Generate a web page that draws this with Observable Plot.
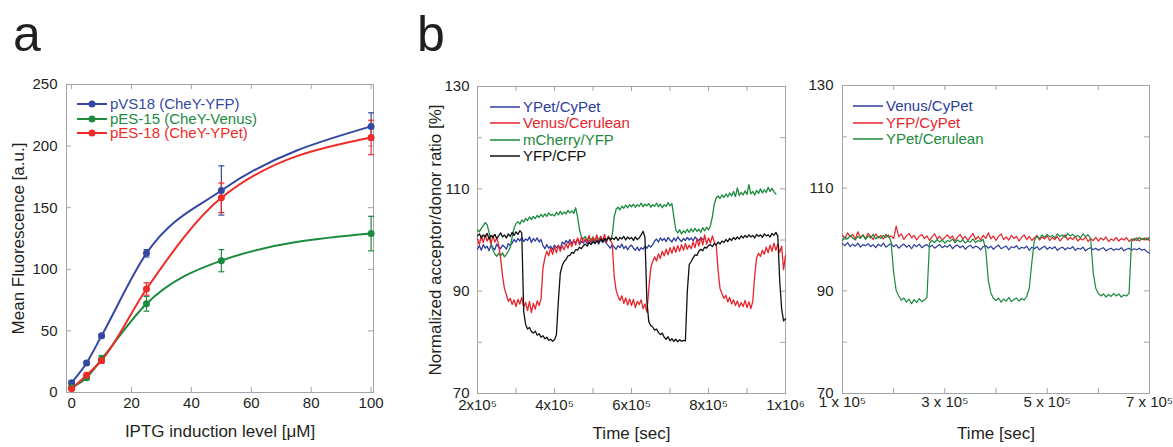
<!DOCTYPE html>
<html><head><meta charset="utf-8">
<script src="https://cdn.jsdelivr.net/npm/d3@7"></script>
<script src="https://cdn.jsdelivr.net/npm/@observablehq/plot@0.6"></script>
<style>
body{margin:0;background:#fff;}
#fig{position:relative;width:1173px;height:447px;overflow:hidden;font-family:"Liberation Sans",Arial,Helvetica,sans-serif;color:#231f20;background:#fff;}
.panel{position:absolute;top:0;}
.panel svg{overflow:visible;background:transparent;max-width:none;}
.big{position:absolute;font-size:50px;line-height:1;top:9px;}
.legend{position:absolute;font-size:15px;}
.legend .row{display:flex;align-items:center;white-space:nowrap;}
.legend svg{display:block;flex:none;}
</style></head>
<body><div id="fig"></div>
<script>
// ---------------- Panel a data ----------------
const iptgLevels = [0, 5, 10, 25, 50, 100];
const namesA = ["pVS18 (CheY-YFP)", "pES-15 (CheY-Venus)", "pES-18 (CheY-YPet)"];
const colorsA = ["#3448a3", "#1c8a3f", "#ee2b27"];
const pVS18Mean = [8, 24, 46, 113, 164, 216];
const pVS18Err  = [1.5, 1.5, 1.5, 3, 20, 11];
const pES15Mean = [4, 12, 27, 72, 107, 129];
const pES15Err  = [1, 1.5, 3, 6, 9, 14];
const pES18Mean = [3, 14, 26, 84, 158, 207];
const pES18Err  = [1, 1.5, 2, 5, 12, 14];
const xTicksA = [0, 20, 40, 60, 80, 100];
const yTicksA = [0, 50, 100, 150, 200, 250];
const xTitleA = "IPTG induction level [\u03bcM]";
const yTitleA = "Mean Fluorescence [a.u.]";

// ---------------- Panel b (left) data: 5000 s sampling from 2x10^5 s ----------------
const bLeftStart = 200000, bLeftStep = 5000;
const namesBL = ["YPet/CyPet", "Venus/Cerulean", "mCherry/YFP", "YFP/CFP"];
const colorsBL = ["#2c3c9c", "#e8232b", "#1a8a3c", "#111111"];
const ypetCypet = [
 98.2, 98.9, 98.0, 99.1, 98.4, 98.8, 97.9, 99.0, 98.5, 98.1,
 99.2, 98.6, 98.3, 99.0, 98.7, 98.2, 99.3, 98.9, 99.4, 100.1,
 99.6, 100.3, 99.8, 100.5, 99.7, 100.2, 99.9, 100.6, 99.5, 100.3,
 99.8, 100.4, 99.6, 100.1, 98.9, 98.3, 99.1, 98.4, 98.8, 98.1,
 99.0, 98.5, 98.9, 98.3, 99.6, 99.2, 99.9, 99.4, 100.1, 99.3,
 99.8, 99.5, 100.2, 99.1, 99.7, 99.4, 100.0, 99.3, 99.9, 99.6,
 100.2, 99.4, 99.8, 99.2, 100.1, 99.5, 99.9, 99.3, 98.9, 98.4,
 99.1, 98.6, 98.2, 98.9, 98.5, 99.2, 98.3, 98.8, 98.1, 98.7,
 99.0, 98.4, 98.0, 98.6, 97.9, 98.5, 98.2, 98.8, 98.4, 99.0,
 98.6, 99.1, 99.8, 100.2, 99.6, 100.4, 99.9, 100.3, 99.7, 100.5,
 100.0, 99.6, 100.4, 99.8, 100.6, 100.1, 99.7, 100.3, 99.9, 100.5,
 100.0, 100.4, 99.8, 100.6, 100.2, 99.9, 100.5, 100.1, 100.3];
const venusCerulean = [
 100.2, 99.1, 100.8, 99.5, 101.0, 99.8, 100.6, 99.2, 100.9, 99.6,
 100.4, 99.0, 96.5, 93.0, 90.5, 89.3, 88.0, 88.6, 87.4, 88.3,
 87.0, 88.4, 87.5, 88.8, 86.9, 87.8, 86.2, 88.0, 85.8, 87.6,
 86.5, 88.1, 87.2, 88.5, 94.5, 96.5, 97.8, 96.9, 98.4, 97.2,
 98.6, 97.5, 99.0, 97.8, 98.9, 98.1, 99.3, 98.4, 99.6, 98.7,
 100.1, 99.0, 100.4, 99.3, 100.6, 99.5, 100.2, 99.7, 100.9, 99.4,
 100.5, 99.8, 101.0, 99.6, 100.7, 99.9, 101.1, 99.5, 100.8, 100.0,
 99.2, 93.0, 90.2, 89.0, 88.2, 89.1, 87.6, 88.7, 87.3, 88.5,
 87.2, 88.4, 86.8, 88.0, 87.4, 88.3, 86.6, 87.5, 85.9, 90.5,
 94.5, 95.8, 96.7, 95.9, 97.3, 96.4, 97.8, 96.9, 98.2, 97.1,
 98.5, 97.4, 98.7, 97.6, 98.9, 97.8, 99.1, 98.0, 99.3, 98.2,
 99.0, 98.3, 99.6, 98.5, 100.2, 98.8, 100.5, 99.0, 101.0, 99.2,
 100.4, 99.4, 100.8, 99.6, 99.0, 94.0, 90.5, 89.5, 88.6, 89.2,
 87.9, 88.8, 87.5, 88.3, 87.2, 88.1, 86.9, 87.8, 87.0, 88.2,
 86.8, 87.9, 86.6, 88.0, 93.0, 96.5, 97.4, 96.8, 98.0, 97.2,
 98.6, 97.5, 99.0, 97.8, 99.4, 98.0, 99.2, 97.6, 98.8, 94.2,
 97.0];
const mcherryYfp = [
 102.0, 101.6, 102.3, 102.8, 103.4, 103.0, 101.5, 99.5, 98.0, 97.3,
 96.8, 97.4, 96.9, 97.5, 96.7, 97.2, 97.8, 98.5, 100.5, 102.3,
 103.2, 103.6, 103.1, 103.9, 103.5, 104.2, 103.8, 104.5, 104.0, 104.6,
 104.2, 104.8, 104.4, 105.0, 104.5, 105.1, 104.6, 105.3, 104.8, 105.0,
 104.7, 105.4, 104.9, 105.6, 105.0, 105.5, 105.1, 105.8, 105.3, 105.7,
 105.2, 106.3, 104.5, 102.0, 100.6, 100.2, 100.7, 99.9, 100.5, 100.0,
 100.6, 99.8, 100.4, 100.0, 100.7, 99.9, 100.3, 100.1, 100.5, 100.0,
 101.0, 104.5, 106.0, 106.4, 105.9, 106.6, 106.2, 106.8, 106.3, 106.9,
 106.5, 107.0, 106.4, 106.9, 106.6, 107.2, 106.5, 107.0, 106.7, 107.1,
 106.4, 106.9, 106.6, 107.2, 106.5, 107.0, 106.3, 106.9, 106.6, 107.3,
 106.7, 107.1, 104.5, 102.0, 101.4, 102.0, 101.2, 101.8, 101.4, 102.1,
 101.5, 102.2, 101.6, 102.3, 101.7, 102.1, 101.5, 102.4, 101.8, 102.5,
 102.0, 102.8, 104.5, 107.0, 108.2, 108.6, 108.1, 108.8, 108.3, 109.0,
 108.4, 109.2, 108.6, 109.5, 108.5, 110.2, 108.7, 109.3, 108.8, 109.6,
 108.9, 110.8, 109.0, 109.5, 108.8, 109.7, 109.1, 110.0, 109.2, 109.8,
 109.3, 110.3, 109.5, 110.1, 109.4, 109.0];
const yfpCfp = [
 100.8, 101.2, 100.4, 101.0, 100.6, 101.3, 100.2, 100.9, 100.5, 101.1,
 100.3, 100.8, 101.4, 100.6, 101.0, 100.4, 101.2, 100.7, 101.5, 100.9,
 101.6, 101.1, 101.8, 101.4, 86.0, 83.5, 82.6, 82.9, 82.1, 81.8,
 82.2, 81.4, 81.7, 81.0, 81.3, 80.7, 81.0, 80.4, 80.6, 80.2,
 80.5, 81.5, 88.0, 93.5, 95.0, 95.8, 96.2, 96.9, 97.0, 97.6,
 97.4, 98.1, 98.0, 98.6, 98.3, 98.9, 99.2, 98.8, 99.5, 99.1,
 99.7, 99.3, 99.9, 99.5, 100.2, 99.7, 100.3, 99.9, 100.5, 100.0,
 100.4, 100.1, 100.6, 99.9, 100.5, 100.2, 100.7, 100.0, 100.6, 100.2,
 100.5, 99.9, 100.6, 100.1, 100.4, 101.0, 101.7, 100.5, 88.0, 84.0,
 83.3, 83.0, 82.4, 82.6, 81.9, 81.5, 81.8, 81.0, 80.6, 81.1,
 80.3, 80.7, 80.2, 80.6, 80.1, 80.5, 80.2, 80.4, 80.3, 90.0,
 95.2, 95.8, 96.5, 97.1, 97.0, 97.8, 98.2, 97.9, 98.6, 98.4,
 98.9, 99.1, 98.7, 99.3, 99.0, 99.6, 99.2, 99.8, 99.5, 100.1,
 99.7, 100.3, 99.9, 100.5, 100.1, 100.6, 100.2, 100.8, 100.4, 100.9,
 100.5, 101.0, 100.6, 100.9, 100.4, 101.1, 100.7, 101.0, 100.5, 101.2,
 100.8, 101.0, 100.6, 101.3, 100.9, 101.5, 100.8, 92.0, 86.5, 84.2,
 84.6];
const xTickValuesBL = [200000, 300000, 400000, 500000, 600000, 700000, 800000, 900000, 1000000];
const xLabelValuesBL = [200000, 400000, 600000, 800000, 1000000];
const xLabelTextBL = ["2x10\u2075", "4x10\u2075", "6x10\u2075", "8x10\u2075", "1x10\u2076"];

// ---------------- Panel b (right) data: 5000 s sampling from 1x10^5 s ----------------
const bRightStart = 100000, bRightStep = 5000;
const namesBR = ["Venus/CyPet", "YFP/CyPet", "YPet/Cerulean"];
const colorsBR = ["#2c3c9c", "#e8232b", "#1a8a3c"];
const venusCypet = [
 99.2, 98.8, 99.4, 98.6, 99.1, 98.7, 99.3, 98.5, 99.0, 98.8,
 99.2, 98.6, 99.0, 98.4, 99.1, 98.7, 99.3, 98.5, 98.9, 99.2,
 98.6, 99.0, 98.3, 98.8, 99.1, 98.5, 98.9, 98.2, 99.0, 98.6,
 99.1, 98.4, 98.8, 99.0, 98.5, 98.9, 98.3, 98.7, 99.0, 98.4,
 98.8, 98.5, 99.0, 98.2, 98.7, 98.9, 98.4, 98.8, 98.1, 98.6,
 98.9, 98.3, 98.7, 98.5, 98.0, 98.6, 98.8, 98.3, 98.7, 98.1,
 98.6, 98.9, 98.2, 98.5, 98.7, 98.0, 98.6, 98.4, 98.8, 98.1,
 98.5, 98.3, 98.7, 97.9, 98.5, 98.2, 98.6, 98.0, 98.4, 98.7,
 98.1, 98.5, 98.2, 98.6, 97.9, 98.3, 98.5, 98.0, 98.4, 98.2,
 98.6, 97.9, 98.3, 98.1, 98.5, 97.8, 98.2, 98.4, 98.0, 98.3,
 97.9, 98.2, 98.4, 97.8, 98.1, 98.3, 97.9, 98.2, 98.0, 98.4,
 97.8, 98.1, 98.3, 97.9, 98.2, 98.0, 98.3, 97.9, 98.1, 97.6,
 97.3];
const yfpCypet = [
 100.8, 100.2, 101.3, 100.5, 101.0, 100.1, 101.5, 100.4, 100.9, 100.2,
 101.2, 100.6, 100.0, 101.1, 100.3, 100.8, 100.1, 101.0, 100.4, 100.7,
 100.2, 102.6, 100.5, 101.1, 100.0, 100.7, 101.2, 100.3, 100.8, 99.9,
 100.6, 101.0, 100.2, 100.7, 99.8, 100.5, 101.1, 100.1, 100.6, 99.9,
 100.4, 100.9, 100.2, 100.7, 99.7, 100.5, 101.0, 100.1, 100.6, 99.8,
 100.5, 101.2, 100.0, 100.6, 99.9, 100.8, 100.2, 101.3, 100.1, 100.7,
 99.8, 100.6, 101.1, 100.0, 100.5, 99.9, 100.8, 100.2, 100.6, 99.7,
 100.4, 100.9, 100.0, 100.6, 99.8, 100.3, 100.8, 99.9, 100.5, 100.1,
 100.7, 99.8, 100.4, 100.0, 100.6, 99.7, 100.3, 100.9, 99.9, 100.4,
 100.0, 100.6, 99.7, 100.2, 99.9, 100.5, 99.6, 100.2, 99.8, 100.4,
 99.7, 100.3, 99.9, 100.5, 99.6, 100.1, 99.8, 100.4, 99.7, 100.2,
 99.9, 100.4, 99.6, 100.1, 99.8, 100.3, 99.7, 100.2, 99.9, 100.3,
 99.8];
const ypetCerulean = [
 99.8, 100.5, 100.1, 100.8, 100.3, 99.9, 100.6, 100.2, 100.9, 100.0,
 100.7, 100.3, 101.0, 100.1, 100.6, 100.2, 100.8, 100.4, 100.9, 99.5,
 93.5, 90.0, 89.0, 88.2, 88.6, 87.8, 88.4, 87.5, 88.3, 87.7,
 88.5, 87.9, 88.2, 88.7, 99.3, 99.8, 99.4, 100.0, 99.5, 99.9,
 99.3, 99.8, 99.6, 100.1, 99.4, 99.9, 99.5, 100.0, 99.3, 99.7,
 99.5, 100.1, 99.4, 99.8, 99.6, 100.0, 98.0, 92.0, 89.6, 88.5,
 88.1, 88.6, 87.8, 88.4, 88.0, 88.7, 87.9, 88.3, 88.6, 88.0,
 88.5, 88.2, 88.9, 90.5, 95.5, 99.8, 100.6, 100.2, 100.9, 100.4,
 101.0, 100.5, 100.8, 100.3, 101.1, 100.6, 100.9, 100.4, 101.2, 100.7,
 101.0, 100.5, 100.8, 100.3, 101.1, 100.6, 100.9, 100.2, 93.5, 90.5,
 89.5, 89.0, 89.4, 88.8, 89.3, 88.9, 89.5, 89.0, 89.4, 88.8,
 89.2, 89.0, 89.5, 99.7, 100.2, 99.8, 100.4, 100.0, 100.3, 99.9,
 100.4];
const xTickValuesBR = [100000, 200000, 300000, 400000, 500000, 600000, 700000];
const xLabelValuesBR = [100000, 300000, 500000, 700000];
const xLabelTextBR = ["1 x 10\u2075", "3 x 10\u2075", "5 x 10\u2075", "7 x 10\u2075"];

const yTickValuesB = [70, 80, 90, 100, 110, 120, 130];
const yLabelValuesB = [70, 90, 110, 130];
const yTitleB = "Normalized acceptor/donor ratio [%]";
const xTitleB = "Time [sec]";

// ---------------- helpers ----------------
const fontFamily = '"Liberation Sans", Arial, Helvetica, sans-serif';
const axisGray = "#a3a5a8";
const textColor = "#231f20";
const fig = document.getElementById("fig");

function inwardTicks(xt, yt, innerW, innerH, len) {
  return [
    Plot.tickX(xt, {x: d => d, insetTop: innerH - len, stroke: axisGray}),
    Plot.tickX(xt, {x: d => d, insetBottom: innerH - len, stroke: axisGray}),
    Plot.tickY(yt, {y: d => d, insetRight: innerW - len, stroke: axisGray}),
    Plot.tickY(yt, {y: d => d, insetLeft: innerW - len, stroke: axisGray})
  ];
}
function place(svg, left) {
  const d = document.createElement("div");
  d.className = "panel";
  d.style.left = left + "px";
  d.appendChild(svg);
  fig.appendChild(d);
}
function addLegend(left, top, rowH, names, colors, withDot, lineW) {
  const d = document.createElement("div");
  d.className = "legend";
  d.style.left = left + "px";
  d.style.top = top + "px";
  names.forEach((n, i) => {
    const r = document.createElement("div");
    r.className = "row";
    r.style.height = rowH + "px";
    r.style.lineHeight = rowH + "px";
    const s = d3.create("svg").attr("width", 30).attr("height", 10);
    s.append("line").attr("x1", 0).attr("x2", 30).attr("y1", 5).attr("y2", 5)
      .attr("stroke", colors[i]).attr("stroke-width", lineW);
    if (withDot) s.append("circle").attr("cx", 15).attr("cy", 5).attr("r", 3.5).attr("fill", colors[i]);
    r.appendChild(s.node());
    const t = document.createElement("span");
    t.textContent = n;
    t.style.color = colors[i];
    t.style.marginLeft = "3px";
    r.appendChild(t);
    d.appendChild(r);
  });
  fig.appendChild(d);
}
function addBig(letter, left) {
  const d = document.createElement("div");
  d.className = "big";
  d.style.left = left + "px";
  d.textContent = letter;
  fig.appendChild(d);
}
const capSymbol = {
  draw(context, size) {
    const r = Math.sqrt(size / Math.PI);
    context.moveTo(-r, 0);
    context.lineTo(r, 0);
  }
};
const baseStyle = {fontFamily, fontSize: "15px", color: textColor, background: "transparent", overflow: "visible"};

// ---------------- Panel a ----------------
const meansA = [pVS18Mean, pES15Mean, pES18Mean];
const errsA = [pVS18Err, pES15Err, pES18Err];
const ptsA = [];
namesA.forEach((n, s) => iptgLevels.forEach((x, i) => ptsA.push({series: n, x, y: meansA[s][i], e: errsA[s][i]})));
{
  const W = 400, H = 447, mL = 66, mR = 27, mT = 84, mB = 55;
  const svg = Plot.plot({
    width: W, height: H, marginLeft: mL, marginRight: mR, marginTop: mT, marginBottom: mB,
    style: baseStyle,
    x: {domain: [-1.7, 100.8]},
    y: {domain: [0, 250]},
    color: {domain: namesA, range: colorsA},
    marks: [
      ...inwardTicks(xTicksA, yTicksA, W - mL - mR, H - mT - mB, 5),
      Plot.frame({stroke: axisGray}),
      Plot.axisX({ticks: xTicksA, tickSize: 0, tickPadding: 5, label: null}),
      Plot.axisY({ticks: yTicksA, tickSize: 0, tickPadding: 9, label: null}),
      Plot.line(ptsA, {x: "x", y: "y", z: "series", stroke: "series", curve: "monotone-x", strokeWidth: 2}),
      Plot.ruleX(ptsA, {x: "x", y1: d => d.y - d.e, y2: d => d.y + d.e, stroke: "series", strokeWidth: 1.2}),
      Plot.dot(ptsA, {x: "x", y: d => d.y + d.e, symbol: capSymbol, r: 3, stroke: "series", fill: "none", strokeWidth: 1.2}),
      Plot.dot(ptsA, {x: "x", y: d => d.y - d.e, symbol: capSymbol, r: 3, stroke: "series", fill: "none", strokeWidth: 1.2}),
      Plot.dot(ptsA, {x: "x", y: "y", fill: "series", r: 3.5}),
      Plot.text([yTitleA], {text: d => d, frameAnchor: "left", textAnchor: "middle", dx: -48, rotate: -90, fontSize: 17}),
      Plot.text([xTitleA], {text: d => d, frameAnchor: "bottom", textAnchor: "middle", dy: 44, fontSize: 17})
    ]
  });
  place(svg, 0);
}

// ---------------- Panel b left ----------------
function rowsFrom(names, arrays, start, step) {
  const rows = [];
  names.forEach((n, s) => arrays[s].forEach((v, i) => rows.push({series: n, t: start + i * step, v})));
  return rows;
}
{
  const W = 400, H = 447, mL = 77, mR = 15, mT = 86, mB = 54;
  const drawOrder = [0, 2, 1, 3];
  const arrays = [ypetCypet, venusCerulean, mcherryYfp, yfpCfp];
  const rows = rowsFrom(drawOrder.map(i => namesBL[i]), drawOrder.map(i => arrays[i]), bLeftStart, bLeftStep);
  const svg = Plot.plot({
    width: W, height: H, marginLeft: mL, marginRight: mR, marginTop: mT, marginBottom: mB,
    style: baseStyle,
    x: {domain: [200000, 1000000]},
    y: {domain: [70, 130]},
    color: {domain: namesBL, range: colorsBL},
    marks: [
      ...inwardTicks(xTickValuesBL, yTickValuesB, W - mL - mR, H - mT - mB, 5),
      Plot.frame({stroke: axisGray}),
      Plot.axisX({ticks: xLabelValuesBL, tickSize: 0, tickPadding: 6, label: null,
        tickFormat: d => xLabelTextBL[xLabelValuesBL.indexOf(d)]}),
      Plot.axisY({ticks: yLabelValuesB, tickSize: 0, tickPadding: 8, label: null}),
      Plot.line(rows, {x: "t", y: "v", z: "series", stroke: "series", strokeWidth: 1.3}),
      Plot.text([yTitleB], {text: d => d, frameAnchor: "left", textAnchor: "middle", dx: -42, rotate: -90, fontSize: 17}),
      Plot.text([xTitleB], {text: d => d, frameAnchor: "bottom", textAnchor: "middle", dy: 45, fontSize: 17})
    ]
  });
  place(svg, 400);
}

// ---------------- Panel b right ----------------
{
  const W = 373, H = 447, mL = 42, mR = 24, mT = 85, mB = 54;
  const rows = rowsFrom(namesBR, [venusCypet, yfpCypet, ypetCerulean], bRightStart, bRightStep);
  const svg = Plot.plot({
    width: W, height: H, marginLeft: mL, marginRight: mR, marginTop: mT, marginBottom: mB,
    style: baseStyle,
    x: {domain: [100000, 700000]},
    y: {domain: [70, 130]},
    color: {domain: namesBR, range: colorsBR},
    marks: [
      ...inwardTicks(xTickValuesBR, yTickValuesB, W - mL - mR, H - mT - mB, 5),
      Plot.frame({stroke: axisGray}),
      Plot.axisX({ticks: xLabelValuesBR, tickSize: 0, tickPadding: 3, label: null,
        tickFormat: d => xLabelTextBR[xLabelValuesBR.indexOf(d)]}),
      Plot.axisY({ticks: yLabelValuesB, tickSize: 0, tickPadding: 9, label: null}),
      Plot.line(rows, {x: "t", y: "v", z: "series", stroke: "series", strokeWidth: 1.2}),
      Plot.text([xTitleB], {text: d => d, frameAnchor: "bottom", textAnchor: "middle", dy: 45, fontSize: 17})
    ]
  });
  place(svg, 800);
}

// ---------------- legends and panel letters ----------------
addLegend(77, 97, 14.5, namesA, colorsA, true, 2);
addLegend(490, 99, 16.3, namesBL, colorsBL, false, 1.5);
addLegend(853, 98, 16.5, namesBR, colorsBR, false, 1.5);
addBig("a", 13);
addBig("b", 417);
</script>
</body></html>
